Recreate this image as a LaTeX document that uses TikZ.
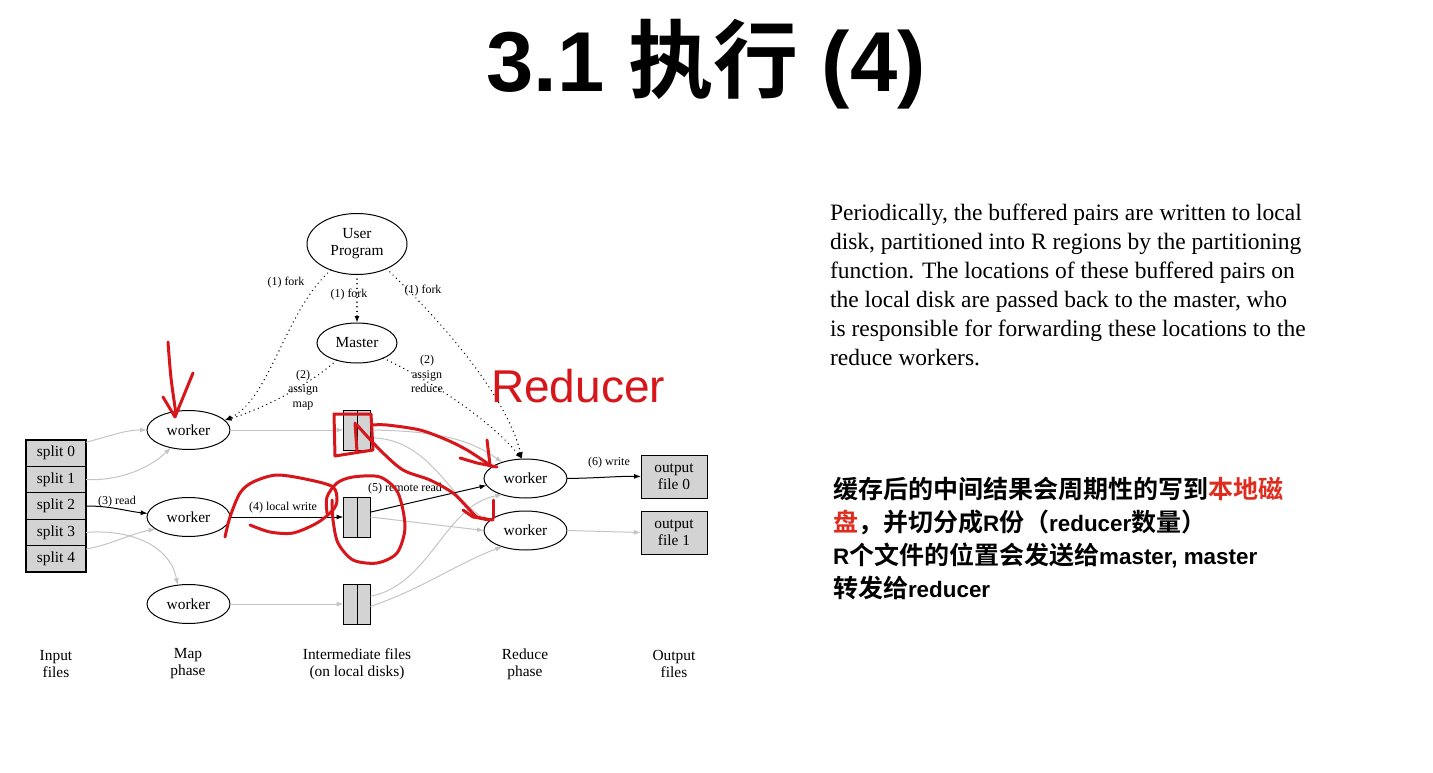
\documentclass[tikz,border=0pt]{standalone}
\usepackage{fontspec}
\setmainfont{Liberation Serif}
\newfontfamily\headfont{Liberation Sans}
\newfontfamily\cjkfont{Noto Sans CJK SC}[BoldFont={Noto Sans CJK SC Bold}]
\usetikzlibrary{shapes.geometric,arrows.meta}
\definecolor{edgegray}{RGB}{196,196,196}
\definecolor{boxgray}{RGB}{211,211,211}
\definecolor{penred}{RGB}{214,22,26}
\definecolor{hlred}{RGB}{222,44,30}
% Latin words inside the Chinese notes
\newcommand{\lat}[1]{{\headfont\bfseries\fontsize{22.4}{30}\selectfont #1}}

\begin{document}
\begin{tikzpicture}[x=1pt,y=-1pt,
  every node/.style={inner sep=0pt,outer sep=0pt},
  ell/.style={ellipse,draw,line width=1pt,font=\fontsize{15.4}{17}\selectfont,align=center},
  wk/.style={ell,minimum width=83pt,minimum height=39pt},
  sbox/.style={rectangle,draw,line width=0.8pt,fill=boxgray,minimum width=60pt,minimum height=26.4pt,font=\fontsize{15.4}{16}\selectfont},
  fbox/.style={rectangle,draw,line width=1pt,fill=boxgray,minimum width=27pt,minimum height=40pt},
  obox/.style={rectangle,draw,line width=1pt,fill=boxgray,minimum width=66pt,minimum height=43pt,align=center,font=\fontsize{15.4}{17}\selectfont},
  lbl/.style={font=\fontsize{12}{14.5}\selectfont,align=center},
  phase/.style={font=\fontsize{15.4}{17}\selectfont,align=center},
  tip/.style={-{Latex[length=7pt,width=5pt]}},
  gline/.style={tip,draw=edgegray,line width=1pt},
  bline/.style={tip,draw=black,line width=1pt},
  dline/.style={tip,line width=1.5pt,dash pattern=on 0.01pt off 4.6pt,line cap=round},
  pen/.style={draw=penred,line width=3pt,line cap=round,line join=round},
  para/.style={anchor=base west,font=\fontsize{23.5}{28}\selectfont},
  cjkline/.style={anchor=base west,font=\cjkfont\bfseries\fontsize{25}{30}\selectfont}
]
\useasboundingbox (0,0) rectangle (1433,773);

% ---- title ----
\node[anchor=base,font=\fontsize{85}{92}\selectfont] (title) at (706,92)
  {\headfont\bfseries 3.1 {\cjkfont\bfseries 执行} (4)};

% ---- processes ----
\node[ell,minimum width=100pt,minimum height=61pt] (up) at (357,244) {User\\Program};
\node[ell,minimum width=80pt,minimum height=40pt] (ms) at (357,343) {Master};
\node[wk] (w1) at (188.5,430) {worker};
\node[wk] (w2) at (188.5,517) {worker};
\node[wk] (w3) at (188.5,604) {worker};
\node[wk] (r1) at (525.5,478.5) {worker};
\node[wk] (r2) at (525.5,530.5) {worker};

% ---- input splits ----
\node[sbox] (s0) at (56,453.2) {split 0};
\node[sbox] (s1) at (56,479.6) {split 1};
\node[sbox] (s2) at (56,506) {split 2};
\node[sbox] (s3) at (56,532.4) {split 3};
\node[sbox] (s4) at (56,558.8) {split 4};
\draw[line width=1.2pt] (s0.north west) rectangle (s4.south east);

% ---- intermediate files ----
\node[fbox] (f1) at (357,430) {};
\node[fbox] (f2) at (357,517) {};
\node[fbox] (f3) at (357,604) {};
\foreach \f in {f1,f2,f3} \draw[line width=1pt] (\f.north) -- (\f.south);

% ---- output files ----
\node[obox] (o0) at (674,476.5) {output\\file 0};
\node[obox] (o1) at (674,532.5) {output\\file 1};

% ---- phase captions ----
\node[phase] (capin)  at (56,664)  {Input\\files};
\node[phase] (capmap) at (188,664) {Map\\phase};
\node[phase] (capint) at (357,664) {Intermediate files\\(on local disks)};
\node[phase] (capred) at (525,664) {Reduce\\phase};
\node[phase] (capout) at (674,664) {Output\\files};

% ---- control flow (dotted) ----
\draw[dline] (up.225) .. controls (285,310) and (270,400) .. (w1.15);
\draw[dline] (up.south) -- (ms.north);
\draw[dline] (up.-40) .. controls (430,310) and (505,390) .. (r1.100);
\draw[dline] (ms.220) .. controls (310,385) and (260,410) .. (w1.15);
\draw[dline] (ms.-30) .. controls (430,380) and (490,420) .. (r1.100);
\node[lbl] (lf1) at (286,283) {(1) fork};
\node[lbl] (lf2) at (349,295) {(1) fork};
\node[lbl] (lf3) at (423,291) {(1) fork};
\node[lbl] (lam) at (303,390) {(2)\\assign\\map};
\node[lbl] (lar) at (427,374) {(2)\\assign\\reduce};

% ---- splits to map workers ----
\draw[gline] (s0.20) .. controls (110,436) and (125,430) .. (w1.west);
\draw[gline] (s1.east) .. controls (120,481) and (150,468) .. (w1.225);
\draw[bline] (s2.east) .. controls (112,506) and (125,511) .. (w2.175);
\draw[gline] (s3.east) .. controls (130,529) and (170,545) .. (w3.120);
\draw[gline] (s4.18) .. controls (110,545) and (130,534) .. (w2.200);
\node[lbl] (lread) at (117,502) {(3) read};

% ---- map workers to local files ----
\draw[gline] (w1.east) -- (f1.west);
\draw[bline] (w2.east) -- (f2.west);
\draw[gline] (w3.east) -- (f3.west);
\node[lbl] (lwrite) at (283,508) {(4) local write};

% ---- local files to reduce workers ----
\draw[gline] (f1.east) .. controls (440,431) and (470,440) .. (r1.145);
\draw[gline] (f1.-30) .. controls (430,438) and (450,500) .. (r2.165);
\draw[bline] (f2.20) -- (r1.190);
\draw[gline] (f2.east) -- (r2.west);
\draw[gline] (f3.30) .. controls (430,585) and (445,505) .. (r1.215);
\draw[gline] (f3.-10) .. controls (420,590) and (460,562) .. (r2.215);
\node[lbl] (lremote) at (405,489) {(5) remote read};

% ---- reduce workers to outputs ----
\draw[bline] (r1.east) .. controls (600,478) and (620,476) .. (o0.west);
\draw[gline] (r2.east) -- (o1.west);
\node[lbl] (lout) at (609,463) {(6) write};

% ---- explanation text ----
\node[para] (p1) at (830,220) {Periodically, the buffered pairs are written to local};
\node[para] (p2) at (830,249) {disk, partitioned into R regions by the partitioning};
\node[para] (p3) at (830,278) {function. The locations of these buffered pairs on};
\node[para] (p4) at (830,307) {the local disk are passed back to the master, who};
\node[para] (p5) at (830,336) {is responsible for forwarding these locations to the};
\node[para] (p6) at (830,365) {reduce workers.};

\node[cjkline] (c1) at (833,498) {缓存后的中间结果会周期性的写到\textcolor{hlred}{本地磁}};
\node[cjkline] (c2) at (833,531) {\textcolor{hlred}{盘}，并切分成\lat{R}份（\lat{reducer}数量）};
\node[cjkline] (c3) at (833,564) {\lat{R}个文件的位置会发送给\lat{master, master}};
\node[cjkline] (c4) at (833,597) {转发给\lat{reducer}};

% ---- red pen marks ----
\draw[pen] plot[smooth] coordinates {(168,342) (171,378) (176,414)};
\draw[pen] (163,397) -- (175,417) -- (193,373);
\draw[pen] (335,456) -- (334,414) -- (371,414) -- (373,450) -- cycle;
\draw[pen] (355,423) -- (357,451);
\draw[pen] plot[smooth] coordinates {(372,425) (387,425) (420,430) (447,440) (467,450) (487,463) (493,467)};
\draw[pen] (487,440) -- (490,465);
\draw[pen] (460,458) -- (477,463) -- (497,467);
\draw[pen] plot[smooth] coordinates {(357,425) (380,450) (403,470) (430,480) (453,493) (467,507) (477,517) (490,520)};
\draw[pen] (493,500) -- (493,518);
\draw[pen] (463,510) -- (473,517) -- (493,520);
\draw[pen] plot[smooth] coordinates {(225,537) (230,517) (240,493) (253,482) (277,475) (310,480) (333,487) (337,500) (333,510) (317,523) (293,533) (270,532) (250,525)};
\draw[pen] plot[smooth] coordinates {(327,513) (327,497) (337,483) (353,477) (380,477) (398,493) (405,527) (397,553) (377,563) (353,560) (338,543) (333,520) (332,500)};
\node[text=penred,font=\headfont\fontsize{46}{50}\selectfont] (hand) at (578,386) {Reducer};
\end{tikzpicture}
\end{document}
